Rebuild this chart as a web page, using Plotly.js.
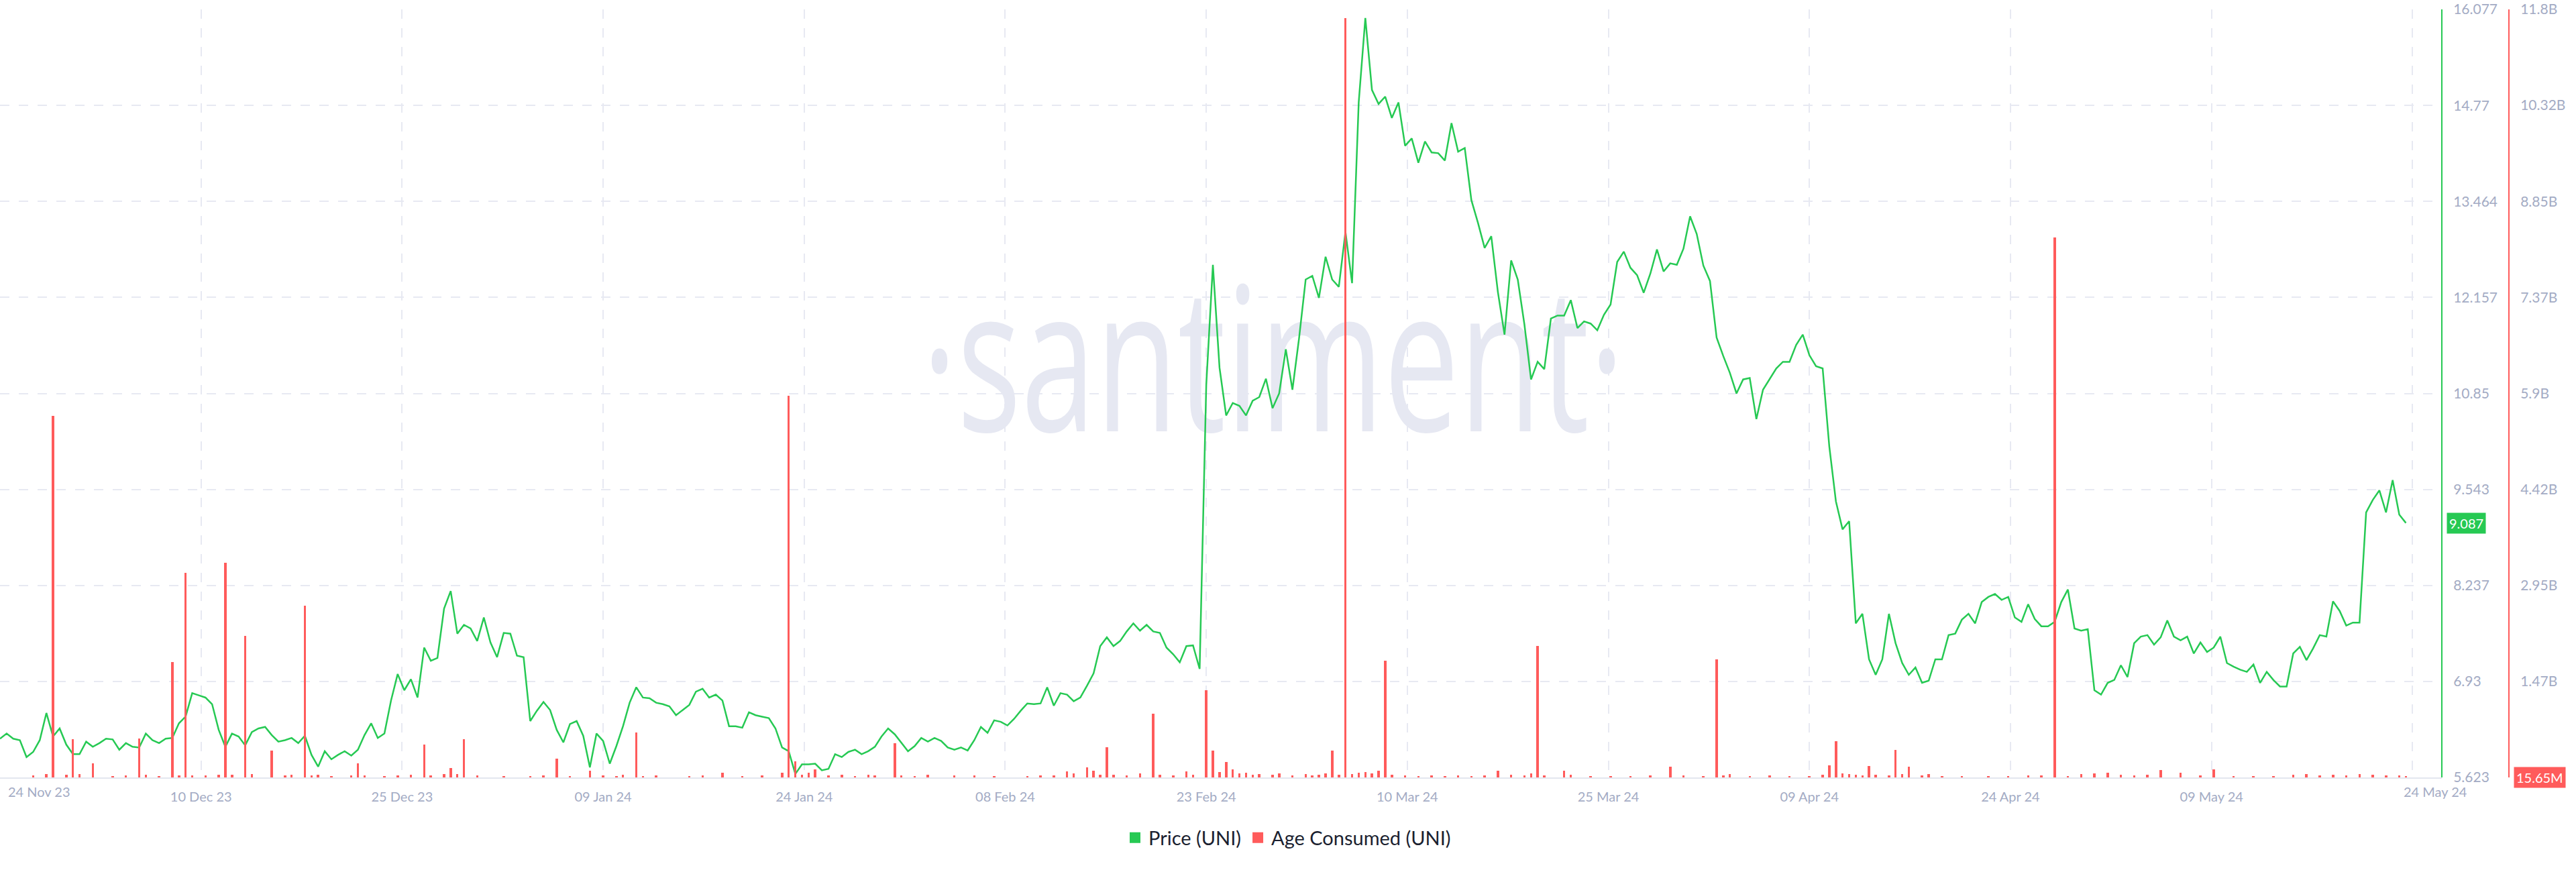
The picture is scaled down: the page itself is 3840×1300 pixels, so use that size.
<!DOCTYPE html>
<html>
<head>
<meta charset="utf-8">
<script src="https://cdn.plot.ly/plotly-3.0.1.min.js"></script>
<style>html,body{margin:0;padding:0;background:#fff;}#chart{width:3840px;height:1300px;}</style>
</head>
<body>
<div id="chart"></div>
<script>
// ---- time grid: 12-hour samples starting 24 Nov 2023 20:00 UTC ----
const startTime = Date.UTC(2023, 10, 24, 20, 0, 0);
const stepHours = 12;

// ---- Price (UNI), one value per 12h step ----
const priceValues = [
6.15,6.22,6.15,6.13,5.90,5.97,6.13,6.50,6.18,6.29,
6.07,5.94,5.94,6.11,6.04,6.09,6.15,6.14,6.00,6.09,
6.04,6.03,6.22,6.13,6.09,6.15,6.16,6.36,6.45,6.77,
6.74,6.71,6.62,6.27,6.04,6.22,6.18,6.06,6.24,6.29,
6.31,6.20,6.11,6.13,6.16,6.09,6.19,5.93,5.77,5.98,
5.87,5.93,5.98,5.92,6.00,6.20,6.36,6.16,6.22,6.67,
7.03,6.81,6.96,6.71,7.39,7.21,7.25,7.92,8.16,7.58,
7.70,7.65,7.48,7.80,7.46,7.26,7.59,7.58,7.28,7.26,
6.39,6.53,6.65,6.54,6.27,6.10,6.35,6.39,6.19,5.76,
6.22,6.12,5.81,6.05,6.32,6.64,6.85,6.71,6.70,6.64,
6.62,6.59,6.47,6.54,6.61,6.79,6.83,6.71,6.75,6.67,
6.32,6.32,6.30,6.51,6.47,6.45,6.43,6.29,6.03,5.98,
5.67,5.80,5.80,5.81,5.72,5.74,5.94,5.90,5.97,6.00,
5.94,5.98,6.04,6.18,6.29,6.21,6.10,5.98,6.05,6.16,
6.11,6.16,6.12,6.03,6.00,6.03,5.99,6.13,6.31,6.23,
6.40,6.38,6.33,6.42,6.53,6.63,6.62,6.63,6.85,6.60,
6.77,6.75,6.66,6.71,6.87,7.04,7.41,7.53,7.41,7.48,
7.61,7.72,7.62,7.70,7.61,7.59,7.39,7.30,7.19,7.41,
7.42,7.10,10.97,12.60,11.20,10.55,10.72,10.68,10.55,10.75,
10.80,11.05,10.65,10.85,11.45,10.90,11.60,12.40,12.45,12.15,
12.71,12.40,12.30,13.05,12.35,14.81,15.96,14.98,14.79,14.89,
14.60,14.81,14.22,14.32,13.99,14.28,14.13,14.12,14.02,14.53,
14.14,14.19,13.48,13.17,12.83,12.99,12.23,11.65,12.66,12.40,
11.79,11.04,11.28,11.18,11.87,11.91,11.91,12.12,11.74,11.83,
11.80,11.71,11.92,12.06,12.64,12.78,12.56,12.46,12.22,12.48,
12.81,12.51,12.62,12.60,12.82,13.26,13.02,12.59,12.38,11.61,
11.36,11.13,10.85,11.04,11.06,10.50,10.90,11.04,11.19,11.28,
11.28,11.51,11.65,11.37,11.22,11.19,10.13,9.38,9.00,9.11,
7.72,7.85,7.23,7.02,7.23,7.85,7.45,7.18,7.02,7.12,
6.91,6.94,7.23,7.23,7.56,7.58,7.77,7.85,7.72,8.01,
8.08,8.12,8.04,8.08,7.80,7.74,7.98,7.78,7.68,7.68,
7.74,8.01,8.18,7.65,7.62,7.64,6.81,6.75,6.91,6.95,
7.15,6.99,7.45,7.54,7.56,7.43,7.53,7.76,7.54,7.49,
7.54,7.31,7.46,7.33,7.39,7.54,7.18,7.13,7.09,7.06,
7.16,6.91,7.06,6.95,6.86,6.86,7.31,7.40,7.22,7.38,
7.56,7.54,8.02,7.89,7.69,7.73,7.73,9.23,9.40,9.53,
9.23,9.67,9.20,9.087
];

// ---- Age Consumed (UNI): step index and value in billions ----
const ageStepIndex = [5,7,8,10,11,12,14,17,19,21,22,24,26,27,28,29,31,33,34,35,37,38,41,43,44,46,47,48,50,53,54,55,58,60,62,64,65,67,68,69,70,72,76,80,82,84,86,89,91,93,94,96,97,99,104,106,109,112,115,118,119,120,121,122,123,125,127,129,131,132,135,136,138,140,144,147,150,155,157,159,161,162,164,165,166,167,168,170,172,174,175,177,179,180,182,183,184,185,186,187,188,189,190,192,193,195,197,198,199,200,201,202,203,204,205,206,207,208,209,210,212,214,216,218,220,222,224,226,228,230,231,232,233,236,237,240,243,246,249,252,254,257,259,260,261,264,267,270,273,275,276,277,278,279,280,281,282,283,285,286,287,288,290,291,293,296,300,303,306,308,310,312,314,316,318,320,322,324,326,329,332,334,337,340,343,346,348,350,352,354,356,358,360,362,363];
const ageBillions = [0.03,0.05,5.55,0.04,0.59,0.05,0.22,0.02,0.03,0.60,0.04,0.02,1.77,0.03,3.14,0.03,0.03,0.04,3.30,0.04,2.17,0.05,0.41,0.03,0.04,2.64,0.03,0.04,0.02,0.03,0.22,0.03,0.02,0.03,0.04,0.50,0.03,0.05,0.14,0.05,0.59,0.03,0.02,0.02,0.03,0.29,0.02,0.10,0.03,0.02,0.04,0.69,0.02,0.03,0.02,0.03,0.07,0.02,0.03,0.07,5.86,0.25,0.04,0.07,0.12,0.03,0.04,0.02,0.04,0.03,0.53,0.03,0.02,0.04,0.03,0.03,0.02,0.02,0.03,0.03,0.09,0.06,0.15,0.10,0.04,0.46,0.04,0.03,0.06,0.98,0.04,0.03,0.09,0.04,1.34,0.41,0.08,0.24,0.12,0.06,0.07,0.04,0.05,0.04,0.06,0.03,0.05,0.03,0.04,0.06,0.41,0.04,11.67,0.05,0.07,0.08,0.06,0.10,1.79,0.04,0.03,0.02,0.03,0.02,0.03,0.02,0.03,0.10,0.04,0.03,0.06,2.02,0.03,0.10,0.04,0.02,0.02,0.02,0.03,0.16,0.03,0.02,1.81,0.03,0.05,0.02,0.03,0.02,0.02,0.04,0.19,0.56,0.06,0.05,0.04,0.03,0.18,0.04,0.03,0.42,0.05,0.16,0.03,0.05,0.02,0.02,0.02,0.02,0.03,0.03,8.30,0.02,0.05,0.06,0.07,0.04,0.03,0.04,0.11,0.07,0.03,0.12,0.02,0.02,0.02,0.04,0.05,0.03,0.04,0.03,0.05,0.04,0.03,0.03,0.01565];

// ---- axis ticks ----
const dateTickLabels = ['24 Nov 23','10 Dec 23','25 Dec 23','09 Jan 24','24 Jan 24','08 Feb 24','23 Feb 24','10 Mar 24','25 Mar 24','09 Apr 24','24 Apr 24','09 May 24','24 May 24'];
const priceTicks = [5.623,6.93,8.237,9.543,10.85,12.157,13.464,14.77,16.077];
const ageTicksB = [0,1.475,2.95,4.425,5.9,7.375,8.85,10.325,11.8];
const ageTickLabels = ['','1.47B','2.95B','4.42B','5.9B','7.37B','8.85B','10.32B','11.8B'];

// ---- helpers ----
const stepMs = stepHours * 3600 * 1000;
function t(i) { return new Date(startTime + i * stepMs).toISOString().replace('T', ' ').slice(0, 19); }
const W = 3840, H = 1300;
const plotRight = 3640, ageAxisX = 3740;
const mT = 14, mB = 141;
const plotH = H - mT - mB;
const pxPerStep = 9.88;

const priceX = priceValues.map((v, i) => t(i));
const ageX = ageStepIndex.map(i => t(i));
const ageY = ageBillions.map(v => v * 1e9);
const tickSpan = 182 * 2 / 12; // steps between date ticks
const dateTickVals = dateTickLabels.map((s, k) => t(k * tickSpan));
const dateTickText = dateTickLabels.map((s, k) => (k === 0 || k === dateTickLabels.length - 1) ? '' : s);

const GREEN = '#26c953', RED = '#ff5b5b', GRID = '#e7e9f2', TICK = '#a3abc4';
const tickFont = { family: 'Lato, sans-serif', size: 20, color: TICK };
const yTickFont = { family: 'Lato, sans-serif', size: 21, color: TICK };

function fmtAge(v) {
  if (v >= 1e9) return (v / 1e9).toFixed(2).replace(/\.?0+$/, '') + 'B';
  return (v / 1e6).toFixed(2) + 'M';
}

const traces = [
  { x: [t(192.1)], y: [10.79], mode: 'text', text: ['·santiment·'], textposition: 'middle center',
    textfont: { family: 'Open Sans, sans-serif', size: 200, color: '#e6e8f2' },
    hoverinfo: 'skip', showlegend: false, cliponaxis: false, xaxis: 'x', yaxis: 'y' },
  { x: priceX, y: priceValues, type: 'scatter', mode: 'lines', name: 'Price (UNI)',
    line: { color: GREEN, width: 2.5 }, showlegend: false, xaxis: 'x', yaxis: 'y' },
  { x: ageX, y: ageY, type: 'bar', name: 'Age Consumed (UNI)', marker: { color: RED, line: { width: 0 } },
    width: 3.5 / pxPerStep * stepMs, showlegend: false, xaxis: 'x', yaxis: 'y2' },
  { x: [null], y: [null], type: 'scatter', mode: 'markers', name: 'Price (UNI)',
    marker: { symbol: 'square', size: 18, color: GREEN }, xaxis: 'x', yaxis: 'y' },
  { x: [null], y: [null], type: 'scatter', mode: 'markers', name: 'Age Consumed (UNI)',
    marker: { symbol: 'square', size: 18, color: RED }, xaxis: 'x', yaxis: 'y' }
];

const lastPrice = priceValues[priceValues.length - 1];
const lastAge = ageY[ageY.length - 1];

const layout = {
  width: W, height: H,
  paper_bgcolor: '#ffffff', plot_bgcolor: '#ffffff',
  margin: { l: 0, r: 0, t: mT, b: mB, pad: 0, autoexpand: false },
  showlegend: true,
  bargap: 0,
  legend: { orientation: 'h', x: 0.5, xanchor: 'center', y: (1159 - 1249) / plotH, yanchor: 'middle',
    font: { family: 'Lato, sans-serif', size: 29, color: '#1b1f30' }, bgcolor: 'rgba(0,0,0,0)', itemwidth: 30 },
  xaxis: {
    type: 'date', domain: [0, plotRight / W],
    range: [t(0), t(plotRight / pxPerStep)],
    tickmode: 'array', tickvals: dateTickVals, ticktext: dateTickText,
    showgrid: true, gridcolor: GRID, gridwidth: 2, griddash: '14px,14px',
    showline: true, linecolor: '#e3e6ef', linewidth: 2,
    ticks: '', ticklabelstandoff: 10, tickfont: tickFont, zeroline: false, fixedrange: true
  },
  yaxis: {
    domain: [0, 1], range: [priceTicks[0], priceTicks[priceTicks.length - 1]],
    side: 'right', anchor: 'free', position: plotRight / W,
    tickmode: 'array', tickvals: priceTicks, ticktext: priceTicks.map(String),
    showgrid: true, gridcolor: GRID, gridwidth: 2, griddash: '14px,14px',
    showline: true, linecolor: GREEN, linewidth: 2,
    ticks: '', ticklabelstandoff: 12, tickfont: yTickFont, zeroline: false, fixedrange: true
  },
  yaxis2: {
    overlaying: 'y', side: 'right', anchor: 'free', position: ageAxisX / W,
    range: [0, ageTicksB[ageTicksB.length - 1] * 1e9],
    tickmode: 'array', tickvals: ageTicksB.map(v => v * 1e9), ticktext: ageTickLabels,
    showgrid: false, showline: true, linecolor: RED, linewidth: 2,
    ticks: '', ticklabelstandoff: 12, tickfont: yTickFont, zeroline: false, fixedrange: true
  },
  annotations: [
    { xref: 'paper', yref: 'paper', x: 10 / W, xanchor: 'left', y: (1159 - 1180) / plotH, yanchor: 'middle',
      text: dateTickLabels[0], showarrow: false, font: tickFont },
    { xref: 'paper', yref: 'paper', x: 3630 / W, xanchor: 'center', y: (1159 - 1180) / plotH, yanchor: 'middle',
      text: dateTickLabels[dateTickLabels.length - 1], showarrow: false, font: tickFont },
    { xref: 'paper', yref: 'y', x: 3647 / W, xanchor: 'left', y: lastPrice, yanchor: 'middle',
      text: lastPrice.toFixed(3), showarrow: false, bgcolor: GREEN, borderpad: 3,
      font: { family: 'Lato, sans-serif', size: 20, color: '#ffffff' } },
    { xref: 'paper', yref: 'y2', x: 3747 / W, xanchor: 'left', y: 0, yanchor: 'middle',
      text: fmtAge(lastAge), showarrow: false, bgcolor: RED, borderpad: 3,
      font: { family: 'Lato, sans-serif', size: 20, color: '#ffffff' } }
  ]
};

Plotly.newPlot('chart', traces, layout, { displayModeBar: false, staticPlot: true }).then(function (gd) {
  // stretch the watermark vertically about its baseline (the reference logo type is tall)
  const el = gd.querySelector('.scatterlayer .trace .textpoint text');
  if (el) {
    const y = parseFloat(el.getAttribute('y')) || 0;
    el.setAttribute('transform', 'translate(0,' + y + ') scale(1,1.5) translate(0,' + (-y) + ')');
  }
});
</script>
</body>
</html>
